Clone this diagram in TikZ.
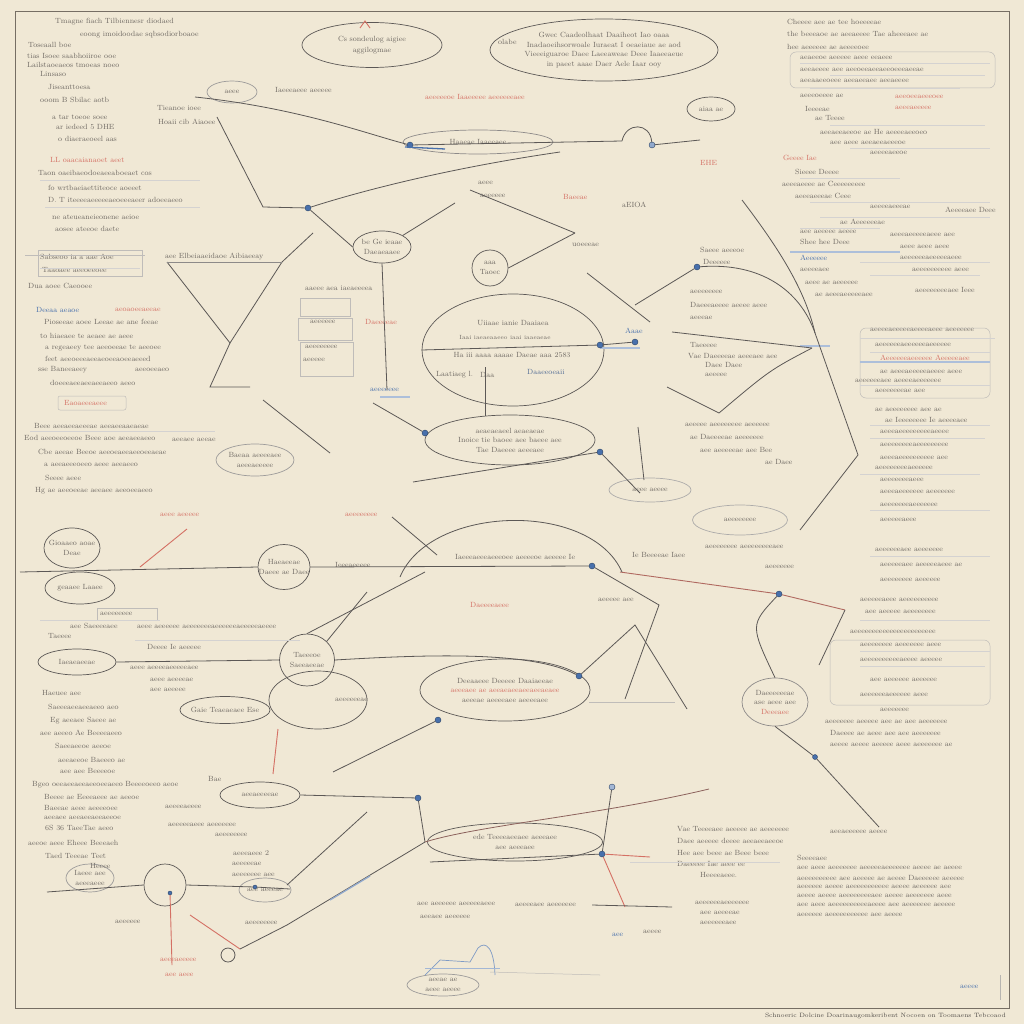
\documentclass[tikz,border=0pt]{standalone}
\usetikzlibrary{shapes.geometric}
\definecolor{bgc}{RGB}{240,232,213}
\definecolor{ink}{RGB}{112,106,100}
\definecolor{linec}{RGB}{92,88,86}
\definecolor{redink}{RGB}{212,112,100}
\definecolor{blueink}{RGB}{72,112,172}
\definecolor{framec}{RGB}{118,110,100}
\begin{document}
\begin{tikzpicture}[x=1pt,y=-1pt,
  T/.style={font=\fontsize{7.5}{9.5}\selectfont, text=ink, inner sep=0pt, anchor=west},
  TC/.style={T, anchor=center, align=center},
  TR/.style={T, text=redink},
  TB/.style={T, text=blueink},
  ell/.style={draw=linec, line width=0.7pt, ellipse, inner sep=0pt},
  wire/.style={draw=linec, line width=0.8pt},
  rwire/.style={draw=redink, line width=0.9pt},
  bwire/.style={draw=blueink, line width=1.3pt},
  faint/.style={draw=ink!45, line width=0.5pt},
  dotn/.style={circle, fill=blueink, draw=blueink!60!black, minimum size=6pt, inner sep=0pt}]
\fill[bgc] (0,0) rectangle (1024,1024);
\useasboundingbox (0,0) rectangle (1024,1024);
\draw[framec, line width=1pt] (15,12) rectangle (1009,1008);
\node[T, anchor=east, font=\fontsize{6.2}{7}\selectfont, text=ink!70!black] (cap) at (1006,1016) {Schnoeric Dolcine Doarinaugomkeribent Nocoen on Toomaens Tebcoaod};

% ---------- ellipses ----------
\node[ell, minimum width=140pt, minimum height=45pt] (e1) at (372,45) {};
\node[ell, minimum width=228pt, minimum height=62pt] (e2) at (604,50) {};
\node[ell, minimum width=48pt, minimum height=24pt] (e3) at (711,109) {};
\node[ell, minimum width=58pt, minimum height=32pt] (e4) at (382,247) {};
\node[ell, minimum width=36pt, minimum height=36pt] (e5) at (490,268) {};
\node[ell, minimum width=182pt, minimum height=112pt] (e6) at (513,350) {};
\node[ell, minimum width=170pt, minimum height=50pt] (e7) at (510,440) {};
\node[ell, minimum width=56pt, minimum height=40pt] (e8) at (72,548) {};
\node[ell, minimum width=70pt, minimum height=32pt] (e9) at (80,588) {};
\node[ell, minimum width=52pt, minimum height=45pt] (e10) at (284,567) {};
\node[ell, minimum width=55pt, minimum height=52pt] (e11) at (307,660) {};
\node[ell, minimum width=78pt, minimum height=26pt] (e12) at (77,662) {};
\node[ell, minimum width=90pt, minimum height=27pt] (e13) at (225,710) {};
\node[ell, minimum width=98pt, minimum height=58pt] (e14) at (318,700) {};
\node[ell, minimum width=170pt, minimum height=62pt] (e15) at (505,690) {};
\node[ell, minimum width=66pt, minimum height=48pt, draw=linec!70] (e16) at (775,702) {};
\node[ell, minimum width=80pt, minimum height=26pt] (e17) at (260,795) {};
\node[ell, minimum width=175pt, minimum height=38pt] (e18) at (515,842) {};
\node[ell, minimum width=42pt, minimum height=42pt] (e19) at (165,885) {};
\node[ell, minimum width=72pt, minimum height=22pt, draw=linec!60] (e20) at (443,985) {};
\node[ell, minimum width=50pt, minimum height=22pt, draw=linec!60] (e21) at (232,92) {};
\node[ell, minimum width=150pt, minimum height=24pt, draw=linec!70] (e22) at (478,142) {};
\node[ell, minimum width=78pt, minimum height=32pt, draw=linec!60] (e23) at (255,460) {};
\node[ell, minimum width=82pt, minimum height=24pt, draw=linec!50] (e24) at (650,490) {};
\node[ell, minimum width=95pt, minimum height=30pt, draw=linec!50] (e25) at (740,520) {};
\node[ell, minimum width=48pt, minimum height=28pt, draw=linec!60] (e26) at (90,878) {};
\node[ell, minimum width=52pt, minimum height=24pt, draw=linec!60] (e27) at (265,890) {};

% ellipse texts
\node[TC] (e1t) at (e1) {Cs sondeulog aigiee\\[2pt] aggilogmae};
\node[TC] (e2t) at (e2) {Gwec Caadeolhaat Daaiheot Iao oaaa\\ Inadaoeihsorwoale Iuraeat I oeaeiaue ae aod\\ Vieeeiguaroe Daee Laeeaweae Deee Iaaeeaeue\\ in paeet aaae Daer Aele Iaar ooy};
\node[T] (e2l) at (498,42) {olabe};
\node[TC] (e3t) at (e3) {aiaa ae};
\node[TC] (e4t) at (e4) {be Ge ieaae\\ Daeaeaaee};
\node[TC] (e5t) at (e5) {aaa\\ Taoec};
\node[TC] (e6a) at (513,323) {Uiiaae ianie Daaiaea};
\node[TC, font=\fontsize{6}{7}\selectfont] (e6b) at (505,337) {Iaai iaeaeaaeeo iaai iaaeaeae};
\node[TC] (e6c) at (512,355) {Ha iii aaaa aaaae Daeae aaa 2583};
\node[T] (e6d) at (436,375) {Laatiaeg l.};
\node[T] (e6e) at (480,375) {Daa};
\node[T, text=blueink!70!ink] (e6f) at (527,372) {Daaeeoeaii};
\node[TC] (e7t) at (e7) {aeaeaeaeel aeaeaeae\\ Inoice tie baoee aee baeee aee\\ Tae Daeeee aeeeaee};
\node[TC] (e8t) at (e8) {Gioaaeo aoae\\ Deae};
\node[TC] (e9t) at (e9) {geaaee Laaee};
\node[TC] (e10t) at (e10) {Haeaeeae\\ Daeee ae Daee};
\node[TC] (e11t) at (e11) {Taeeeoe\\ Saeeaeeae};
\node[TC] (e12t) at (e12) {Iaeaeaeeae};
\node[TC] (e13t) at (e13) {Gaie Teaeaeaee Ese};
\node[T] (e14t) at (335,700) {aeeeeeeae};
\node[TC] (e15t) at (e15) {Deeaaeee Deeeee Daaiaeeae\\ \textcolor{redink}{aeeeaee ae aeeaeaeeaeeaeeaeaee}\\ aeeeae aeeeeaee aeeeeaee};
\node[TC] (e16t) at (e16) {Daeeeeeeae\\ ase aeee aee\\ \textcolor{redink}{Deeeaee}};
\node[TC] (e17t) at (e17) {aeeaeeeeae};
\node[TC] (e18t) at (e18) {ede Teeeeaeeaee aeeeaee\\ aee aeeeaee};
\node[TC] (e20t) at (e20) {aeeae ae\\ aeee aeeee};
\node[TC] (e21t) at (e21) {aeee};
\node[TC] (e22t) at (e22) {Haaeae Iaaeeaee};
\node[TC] (e23t) at (e23) {Baeaa aeeeeaee\\ aeeeaeeeee};
\node[TC] (e24t) at (e24) {aeee aeeee};
\node[TC] (e25t) at (e25) {aeeeeeeee};
\node[TC] (e26t) at (e26) {Iaeee aee\\ aeeeaeee};
\node[TC] (e27t) at (e27) {aee aeeeae};

% ---------- gray text ----------
\foreach \x/\y/\s [count=\i] in {
55/22/Tmagne fiach Tilbiennesr diodaed, 80/35/eoong imoidoodae sqbsodiorboaoe, 28/45/Toseaall boe,
27/56/tias Isoee saabhoiiroe ooe, 27/65/Lailstaoeaeos tmoeas noeo, 40/74/Linsaso, 48/87/Jiseanttoesa,
40/100/ooom B Sbilac aotb, 52/117/a tar toeoe soee, 56/127/ar iedeed 5 DHE, 58/139/o diaeraeoeel aas,
38/173/Taon oaeibaeodoeaeeaboeaet cos, 48/188/fo wrtbaeiaettiteoce aoeeet, 48/200/D. T iteeeeaeeeeeaeoeeeaeer adoeeaeeo,
52/217/ne ateueaneieonene aeioe, 55/229/aosee ateeoe daete, 40/257/Sabseoo ia a aae Aoe, 165/257/aee Elbeiaaeidaoe Aibiaeeay,
42/270/Taaoaee aeeoeeoee, 28/286/Dua aoee Caeooee, 44/322/Pioseeae aoee Leeae ae ane feeae,
40/336/to hiaeaee te aeaee ae aeee, 45/348/a regeaeey tee aeeoeeae te aeeoee, 45/359/feet aeeoeeeaeeaeoeeaoeeaeeed,
38/370/sse Baneeaeey, 135/370/aeeoeeaeo, 50/383/doeeeaeeaeeaeeaeeo aeeo,
34/426/Beee aeeaeeaeeeae aeeaeeaaeaeae, 24/438/Eod aeeoeeoeeoe Beee aoe aeeaeeaeeo, 172/440/aeeaee aeeae,
38/452/Cbe aeeae Beeoe aeeoeaeeaeeoeeaeae, 44/465/a aeeaeeeoeeo aeee aeeaeeo, 45/478/Seeee aeee,
35/491/Hg ae aeeoeeae aeeaee aeeoeeaeeo,
42/693/Haeuee aee, 48/707/Saeeeaeeaeeaeeo aeo, 50/721/Eg aeeaee Saeee ae, 40/733/aee aeeeo Ae Beeeeaeeo,
55/746/Saeeaeeoe aeeoe, 58/760/aeeaeeoe Baeeeo ae, 60/771/aee aee Beeeeoe,
32/785/Bgeo oeeaeeaeeaeeoeeaeeo Beeeeoeeo aeoe, 44/797/Beeee ae Eeeeaeee ae aeeoe, 44/808/Baeeae aeee aeeeeoee,
44/818/aeeaee aeeaeeaeeaeeoe, 45/828/6S 36 TaeeTae aeeo, 28/843/aeeoe aeee Eheee Beeeaeh, 45/856/Taed Teeeae Teet, 90/866/Heeee,
157/108/Tieanoe ioee, 158/122/Hoaii cib Aiaoee, 275/90/Iaeeeaeee aeeeee, 305/288/aaeee aea iaeaeeeea,
310/322/aeeeeee, 305/347/aeeeeeeee, 303/360/aeeeee, 455/557/Iaeeeaeeeaeeeoee aeeeeoe aeeeee Ie, 335/565/Ieeeaeeeee,
632/555/Ie Beeeeae Iaee, 100/614/aeeeeeeee, 70/626/aee Saeeeeaee, 48/636/Taeeee,
137/627/aeee aeeeeee aeeeeeeeaeeeeeeaeeeeeaeeee, 147/647/Deeee Ie aeeeee, 130/668/aeee aeeeeaeeeeeaee,
150/680/aeee aeeeeae, 150/690/aee aeeeee, 208/779/Bae, 165/807/aeeeeaeeee, 168/825/aeeeeeaeee aeeeeeee,
215/835/aeeeeeeee, 233/853/aeeeaeee 2, 232/864/aeeeeeae, 232/875/aeeeeeee aee, 245/923/aeeeeeeee, 115/922/aeeeeee,
417/904/aee aeeeeee aeeeeeaeee, 420/917/aeeaee aeeeeee, 515/905/aeeeeaee aeeeeeee, 695/903/aeeeeeeaeeeeeee,
700/913/aee aeeeeae, 700/923/aeeeeeeaee, 643/932/aeeee,
677/829/Vae Teeeeaee aeeeee ae aeeeeeee, 677/841/Daee aeeeee deeee aeeaeeaeeoe, 677/853/Hee aee beee ae Beee beee,
677/864/Daeeeee Iae aeee ee, 700/875/Heeeeaeee., 830/832/aeeaeeeeee aeeee,
797/858/Seeeeaee, 797/868/aee aeee aeeeeeee aeeeeeaeeeeeee aeeee ae aeeee, 797/878/aeeeeeeeeee aee aeeeee ae aeeee Daeeeeee aeeeee,
797/887/aeeeeee aeeee aeeeeeeeeeee aeeee aeeeeee aee, 797/896/aeeee aeeee aeeeeeeeeaee aeeee aeeeeeee aeee,
797/905/aee aeee aeeeeeeeeeeaeeee aee aeeeeeee aeeeee, 797/915/aeeeeee aeeeeeeeeeee aee aeeee,
787/22/Cheeee aee ae tee hoeeeeae, 787/34/the beeeaoe ae aeeaeeee Tae aheeeaee ae, 787/47/hee aeeeeee ae aeeeeoee,
800/58/aeaeeoe aeeeee aeee eeaeee, 800/70/aeeaeeee aee aeeoeeaeeaeeoeeeaeeae, 800/81/aeeaaeeoeee aeeaeeaee aeeaeeee,
800/96/aeeeoeeee ae, 805/109/Ieeeeae, 815/118/ae Teeee, 820/132/aeeaeeaeeoe ae He aeeeeaeeoeo, 830/143/aee aeee aeeaeeaeeeoe,
870/153/aeeeeaeeoe, 795/172/Sieeee Deeee, 782/184/aeeeaeeee ae Ceeeeeeeee, 795/196/aeeeaeeeae Ceee, 870/207/aeeeeaeeeae,
945/210/Aeeeeaee Deee, 840/222/ae Aeeeeeeae, 800/232/aee aeeeee aeeee, 890/235/aeeeaeeeeeaeee aee, 800/242/Shee hee Deee,
900/247/aeee aeee aeee, 900/258/aeeeeeeaeeeeeaeee, 800/270/aeeeeaee, 912/270/aeeeeeeeeee aeee, 805/283/aeee ae aeeeeee,
915/290/aeeeeeeeeaee Ieee, 815/295/ae aeeeaeeeeeaee, 870/330/aeeeeaeeeeeaeeeeaeee aeeeeeee, 875/345/aeeeeeeaeeeeeeaeeeeee,
880/372/ae aeeeaeeeeeaeeee aeee, 855/381/aeeeeeeaee aeeeeaeeeeeee, 875/391/aeeeeeeeae aee, 875/410/ae aeeeeeeee aee ae,
885/420/ae Ieeeeeeee Ie aeeeeaee, 880/432/aeeeaeeeeeeeeeaeeee, 880/445/aeeeeeeeeaeeeeeeeee, 880/458/aeeeaeeeeeeeeee aee,
875/468/aeeeeeeeeaeeeeee, 880/480/aeeeeeeeaeee, 880/492/aeeeaeeeeeee aeeeeeee, 880/505/aeeeeeeeaeeeeeee, 880/520/aeeeeeaeee,
875/550/aeeeeeeaee aeeeeeee, 880/565/aeeeeeaee aeeeeeaeee ae, 880/580/aeeeeeeee aeeeeee, 860/600/aeeeeeaeee aeeeeeeeeee,
865/612/aee aeeeee aeeeeeeee, 850/632/aeeeeeeeeeeeeeeeeeeeeeee, 860/645/aeeeeeeee aeeeeeee aeee, 860/660/aeeeeeeeeeeaeeee aeeeee,
870/680/aee aeeeeee aeeeeee, 860/695/aeeeeeeaeeeeee aeee, 880/710/aeeeeeee, 825/722/aeeeeeee aeeeee aee ae aee aeeeeeee,
830/733/Daeeee ae aeee aee aee aeeeeeee, 830/745/aeeee aeeee aeeeee aeee aeeeeeee ae,
690/292/aeeeeeeee, 690/305/Daeeeaeeee aeeee aeee, 690/318/aeeeae, 690/345/Taeeeee, 688/356/Vae Daeeeeae aeeeaee aee,
705/365/Daee Daee, 705/375/aeeeee, 700/250/Saeee aeeeoe, 703/262/Deeeeee, 572/245/uoeeeae, 622/205/aEIOA,
685/425/aeeeee aeeeeeeee aeeeeee, 690/437/ae Daeeeeae aeeeeeee, 700/450/aee aeeeeeae aee Bee, 765/462/ae Daee,
705/547/aeeeeeeee aeeeeeeeeaee, 765/567/aeeeeeee, 598/600/aeeeee aee, 478/183/aeee, 480/196/aeeeeee}
  {\node[T] (g\i) at (\x,\y) {\s};}

% ---------- red text ----------
\foreach \x/\y/\s [count=\i] in {
50/160/LL oaacaianaoet aeet, 425/97/aeeeeeoe Iaaeeeee aeeeeeeaee, 563/197/Baeeae, 700/163/EHE, 783/158/Geeee Iae,
895/97/aeeoeeaeeeoee, 895/108/aeeeaeeeee, 880/358/Aeeeeeeaeeeeee Aeeeeeaee, 64/403/Eaoaeeeaeee, 115/310/aeoaoeeaeeae,
365/322/Daeeeeae, 160/515/aeee aeeeee, 345/515/aeeeeeeee, 470/605/Daeeeeaeee, 160/960/aeeeaeeeee, 165/975/aee aeee}
  {\node[TR] (r\i) at (\x,\y) {\s};}
% ---------- blue text ----------
\foreach \x/\y/\s [count=\i] in {
36/310/Deeaa aeaoe, 800/258/Aeeeeee, 370/390/aeeeeeee, 625/331/Aaae, 612/935/aee, 960/987/aeeee}
  {\node[TB] (b\i) at (\x,\y) {\s};}

% boxes around some texts
\draw[faint, rounded corners=2pt] (58,396) rectangle (126,410);
\draw[faint] (97,608) rectangle (157,620);
\draw[faint] (38,250) rectangle (142,276);
\draw[faint] (300,298) rectangle (350,316);
\draw[faint] (298,318) rectangle (352,340);
\draw[faint] (300,342) rectangle (353,376);
\draw[faint, rounded corners=6pt] (790,52) rectangle (995,88);
\draw[faint, rounded corners=6pt] (860,328) rectangle (990,398);
\draw[faint, rounded corners=6pt] (830,640) rectangle (990,705);

% faint underline strokes
\foreach \a/\y/\b in {800/63/990, 830/75/985, 810/88/960, 830/125/985, 850/148/990, 800/178/900, 810/202/990,
  820/217/990, 800/228/880, 860/262/990, 870/275/980, 860/338/995, 870/352/990, 860/385/990, 870/425/990,
  870/438/985, 860/474/980, 870/510/990, 870/556/990, 860/620/990, 860/651/990, 860/666/985,
  40/180/200, 45/207/200, 40/268/140, 30/431/215, 40/620/160, 135/640/300, 630/862/780}
  {\draw[faint, draw=ink!30] (\a,\y) -- (\b,\y);}
\foreach \a/\y/\b in {790/252/900, 800/346/830, 860/362/990, 380/397/410, 600/348/640}
  {\draw[draw=blueink!45, line width=1.2pt] (\a,\y) -- (\b,\y);}
\draw[draw=ink!50, line width=0.6pt] (1000,975) -- (1000,1000);

% ---------- dots ----------
\node[dotn] (d1) at (410,145) {};
\node[dotn] (d2) at (308,208) {};
\node[dotn, fill=blueink!60] (d3) at (652,145) {};
\node[dotn] (d4) at (697,267) {};
\node[dotn] (d5) at (635,342) {};
\node[dotn] (d6) at (600,345) {};
\node[dotn] (d7) at (425,433) {};
\node[dotn] (d8) at (600,452) {};
\node[dotn] (d9) at (592,566) {};
\node[dotn] (d10) at (779,594) {};
\node[dotn] (d11) at (579,676) {};
\node[dotn] (d12) at (438,720) {};
\node[dotn] (d13) at (418,798) {};
\node[dotn, fill=blueink!50] (d14) at (612,787) {};
\node[dotn] (d15) at (602,854) {};
\node[dotn, minimum size=4pt] (d16) at (255,887) {};
\node[dotn, minimum size=5pt] (d17) at (815,757) {};
\node[dotn, minimum size=4pt] (d18) at (170,893) {};

% ---------- coordinates ----------
\coordinate (p1) at (195,97);   \coordinate (p2) at (560,152);
\coordinate (p3) at (217,117);  \coordinate (p4) at (263,207);
\coordinate (p6) at (455,203);  \coordinate (p7) at (167,262);
\coordinate (p8) at (282,262);  \coordinate (p9) at (230,343);
\coordinate (p10) at (210,387); \coordinate (p11) at (250,387);
\coordinate (p12) at (313,233); \coordinate (p13) at (263,400);
\coordinate (p14) at (330,453); \coordinate (p15) at (373,403);
\coordinate (p16) at (575,233); \coordinate (p17) at (470,190);
\coordinate (p18) at (485,367); \coordinate (p19) at (485,416);
\coordinate (p20) at (742,200); \coordinate (p22) at (815,333);
\coordinate (p23) at (635,305); \coordinate (p24) at (587,273);
\coordinate (p25) at (650,322); \coordinate (p26) at (672,332);
\coordinate (p27) at (812,348); \coordinate (p28) at (719,413);
\coordinate (p29) at (667,387); \coordinate (p30) at (638,427);
\coordinate (p31) at (644,480); \coordinate (p32) at (858,455);
\coordinate (p33) at (800,530); \coordinate (p34) at (413,482);
\coordinate (p35) at (640,493); \coordinate (p36) at (20,572);
\coordinate (p37) at (140,567); \coordinate (p38) at (187,529);
\coordinate (p39) at (620,572); \coordinate (p40) at (845,610);
\coordinate (p41) at (392,517); \coordinate (p42) at (437,555);
\coordinate (p43) at (367,592); \coordinate (p45) at (425,572);
\coordinate (p47) at (635,625); \coordinate (p48) at (687,709);
\coordinate (p49) at (659,605); \coordinate (p50) at (625,699);
\coordinate (p52) at (589,702); \coordinate (p53) at (675,702);
\coordinate (p54) at (333,772); \coordinate (p55) at (278,729);
\coordinate (p56) at (273,774); \coordinate (p57) at (425,842);
\coordinate (p58) at (709,789); \coordinate (p59) at (625,907);
\coordinate (p60) at (650,857); \coordinate (p61) at (430,862);
\coordinate (p62) at (592,905); \coordinate (p63) at (672,907);
\coordinate (p64) at (287,885); \coordinate (p65) at (367,812);
\coordinate (p66) at (287,925); \coordinate (p67) at (190,915);
\coordinate (p68) at (240,949); \coordinate (p69) at (47,892);
\coordinate (p70) at (290,889); \coordinate (p71) at (172,965);
\coordinate (p72) at (490,972); \coordinate (p73) at (600,975);
\coordinate (p75) at (879,827); \coordinate (p76) at (819,665);
\coordinate (p77) at (622,141); \coordinate (p78) at (700,140);
\coordinate (p79) at (25,255);  \coordinate (p80) at (145,255);

% ---------- connectors ----------
\draw[wire] (p1) .. controls (300,108) and (370,135) .. (d1);
\draw[wire] (d1) -- (p77);
\draw[wire] (p77) .. controls (626,122) and (650,122) .. (d3);
\draw[wire] (d3) -- (p78);
\draw[bwire] (405,147) -- (445,149);
\draw[wire] (d2) .. controls (380,185) and (470,165) .. (p2);
\draw[wire] (p3) -- (p4) -- (d2);
\draw[wire] (d2) -- (e4.west);
\draw[wire] (e4.north east) -- (p6);
\draw[wire] (p7) -- (p9) -- (p8);
\draw[wire] (p9) -- (p10) -- (p11);
\draw[wire] (p12) -- (p8);
\draw[wire] (p13) -- (p14);
\draw[faint] (p79) -- (p80);
\draw[wire, draw=linec!70] (p7) -- (p8);
\draw[wire] (e4.south) -- (387,390);
\draw[wire] (p15) -- (d7);
\draw[wire] (p17) -- (p16);
\draw[wire] (e5.east) -- (p16);
\draw[wire] (p18) -- (p19);
\draw[wire] (p20) .. controls (780,250) and (805,290) .. (p22);
\draw[wire] (d4) .. controls (760,262) and (800,290) .. (p22);
\draw[wire] (d4) -- (p23);
\draw[wire] (p24) -- (p25);
\draw[wire] (e6.west) -- (d6);
\draw[wire] (d6) -- (d5);
\draw[wire] (p26) -- (p27);
\draw[wire] (p27) .. controls (770,370) .. (p28);
\draw[wire] (p29) -- (p28);
\draw[wire] (p30) -- (p31);
\draw[wire] (p22) -- (p32) -- (p33);
\draw[wire] (p34) -- (d8) -- (p35);
\draw[wire] (p36) -- (e10.west);
\draw[wire] (e10.east) -- (d9);
\draw[rwire] (p37) -- (p38);
\draw[rwire, draw=redink!70!linec] (p39) -- (d10) -- (p40);
\draw[wire] (p41) -- (p42);
\draw[wire] (p43) -- (e11.north east);
\draw[wire] (p45) -- (e11.north);
\draw[wire] (e12.east) -- (e11.west);
\draw[wire] (e11.east) .. controls (420,655) and (530,650) .. (d11);
\draw[wire] (d11) -- (p47) -- (p48);
\draw[wire] (d9) -- (p49) -- (p50);
\draw[faint] (p52) -- (p53);
\draw[wire] (d12) -- (p54);
\draw[rwire] (p55) -- (p56);
\draw[wire] (e17.east) -- (d13);
\draw[wire] (d13) -- (p57);
\draw[wire, draw=redink!40!linec] (p57) .. controls (480,825) and (600,815) .. (p58);
\draw[wire] (d14) -- (d15);
\draw[rwire] (d15) -- (p59);
\draw[rwire] (d15) -- (p60);
\draw[wire] (p61) -- (d15);
\draw[wire] (p62) -- (p63);
\draw[wire] (p64) -- (p65);
\draw[wire] (p66) -- (p57);
\draw[bwire, draw=blueink!60] (330,900) -- (370,876);
\draw[rwire] (p67) -- (p68);
\draw[wire] (p68) -- (p66);
\draw[wire] (p69) -- (e19.west);
\draw[wire] (e19.east) -- (d16) -- (p70);
\draw[rwire] (d18) -- (p71);
\draw[faint] (p72) -- (p73);
\draw[wire] (d17) -- (p75);
\draw[wire] (d10) .. controls (750,625) .. (e16.north);
\draw[wire] (p40) -- (p76);
\draw[wire] (e16.south) -- (d17);
% big arc
\draw[wire] (400,577) .. controls (430,505) and (590,500) .. (622,572);
% small loop
\draw[wire] (228,955) circle (7pt);
% blue sketch near bottom
\draw[draw=blueink!70, line width=0.7pt] (425,975) -- (440,960) -- (470,962) -- (478,948) .. controls (486,940) and (494,948) .. (495,975);
\draw[draw=blueink!50, line width=0.6pt] (425,968) -- (500,968);
% orange mark on e1
\draw[draw=redink, line width=0.9pt] (360,28) -- (365,21) -- (370,28);
\end{tikzpicture}
\end{document}
